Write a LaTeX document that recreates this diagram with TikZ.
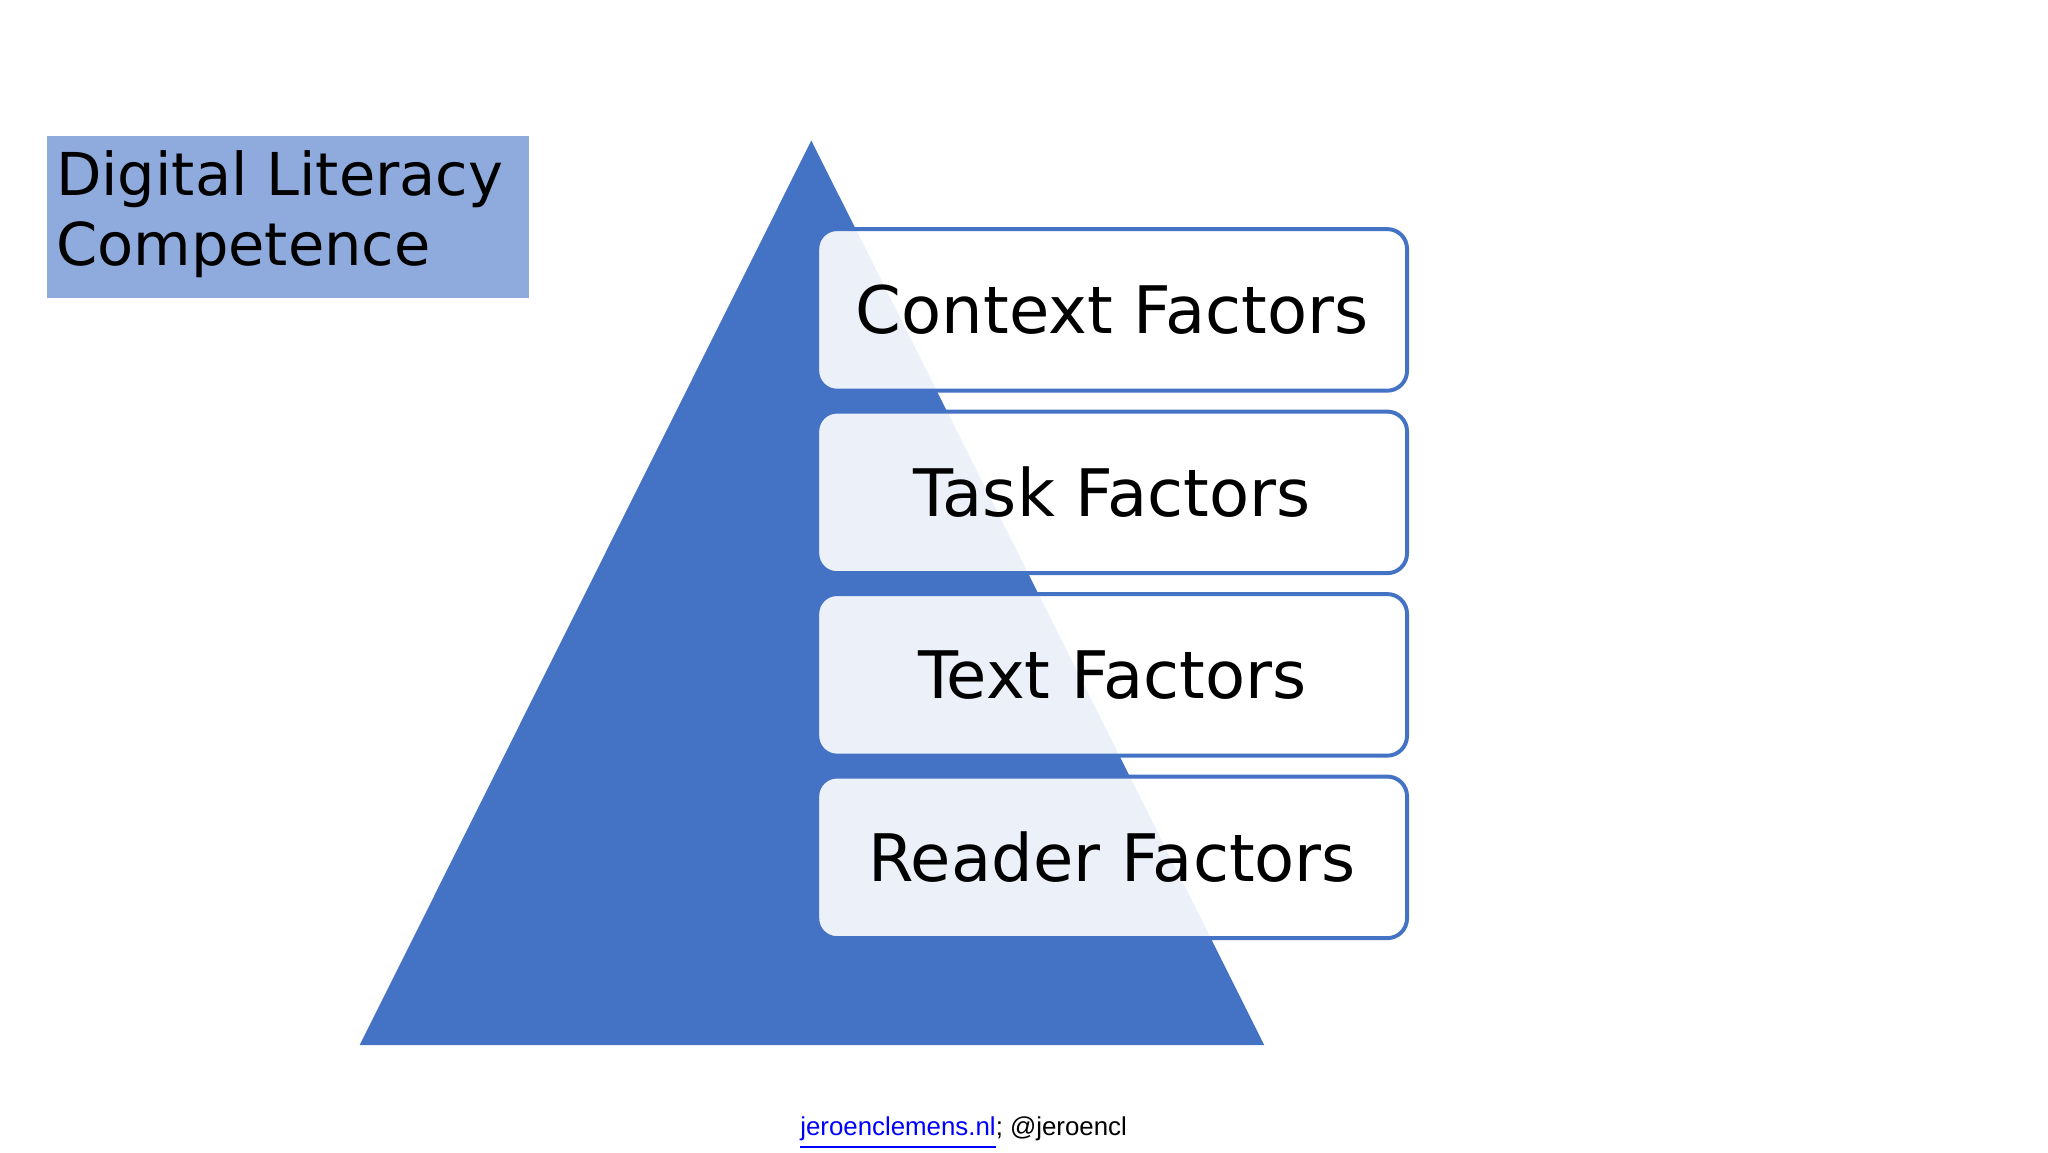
\documentclass[tikz,border=0pt]{standalone}
\usepackage{fontspec}
\setmainfont{DejaVu Sans}
\newfontfamily\footfont{Liberation Sans}
\begin{document}
\begin{tikzpicture}[x=0.01cm,y=-0.01cm,
  fac/.style={draw=tri,line width=0.03cm,rounded corners=0.15cm,fill=white,fill opacity=0.9,text opacity=1,minimum width=4.49cm,minimum height=1.23cm,anchor=north west,font=\fontsize{14.2pt}{17pt}\selectfont,inner sep=0pt}]
\definecolor{tri}{HTML}{4472C4}
\definecolor{ttl}{HTML}{8FAADC}
\useasboundingbox (0,0) rectangle (1560,877.5);
\fill[tri] (618,107) coordinate (apex) -- (274,796) -- (963,796) -- cycle;
\node[fill=ttl,minimum width=3.67cm,minimum height=1.23cm,anchor=north west,inner sep=0pt] (title) at (35,103) {};
\node[anchor=north west,align=left,font=\fontsize{12.8pt}{15.1pt}\selectfont,inner sep=0pt] (tt) at (42,114) {Digital Literacy\\Competence};
\node[fac] (c) at (621,173) {Context Factors};
\node[fac] (k) at (621,312) {Task Factors};
\node[fac] (x) at (621,451) {Text Factors};
\node[fac] (r) at (621,590) {Reader Factors};
\node[font=\footfont\fontsize{5.6pt}{7pt}\selectfont] (f) at (734,863) {\textcolor{blue}{\underline{jeroenclemens.nl}}; @jeroencl};
\end{tikzpicture}
\end{document}
